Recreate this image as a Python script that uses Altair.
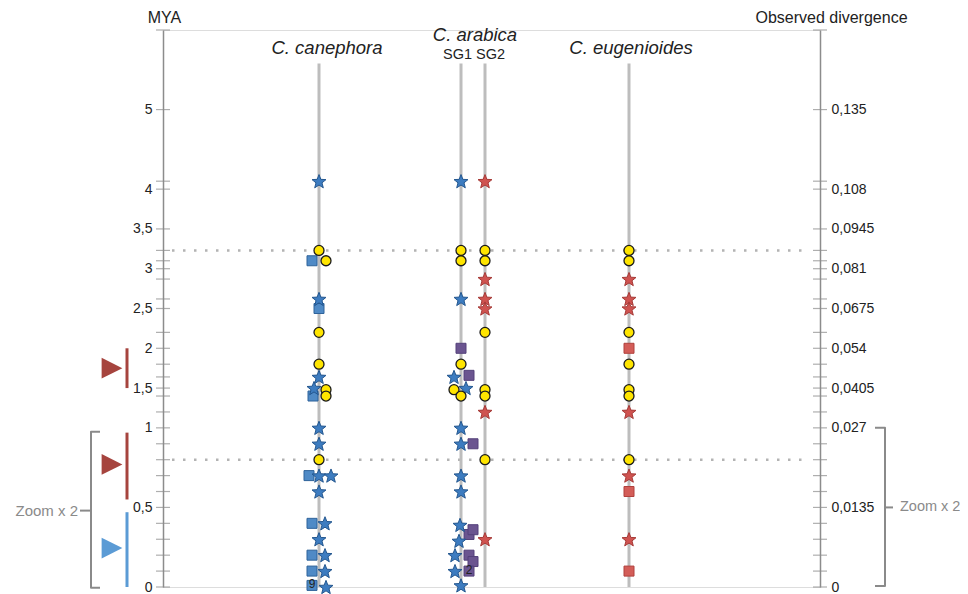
import math
import altair as alt
import pandas as pd

# ---------------------------------------------------------------- data
# axis ticks (MYA) -- minor ticks mark the data levels
tick_mya = [0, 0.1, 0.2, 0.3, 0.4, 0.5, 0.6, 0.7, 0.8, 0.9, 1, 1.2, 1.4, 1.5, 1.64,
            1.8, 2, 2.2, 2.5, 2.62, 2.87, 3, 3.1, 3.23, 3.5, 4, 4.1, 5, 6]
label_mya = [0, 0.5, 1, 1.5, 2, 2.5, 3, 3.5, 4, 5]
label_mya_text = ["0", "0,5", "1", "1,5", "2", "2,5", "3", "3,5", "4", "5"]
label_div_text = ["0", "0,0135", "0,027", "0,0405", "0,054", "0,0675", "0,081",
                  "0,0945", "0,108", "0,135"]

species = ["C. canephora", "C. arabica", "C. eugenioides"]
subgenomes = "SG1 SG2"
columns = ["canephora", "SG1", "SG2", "eugenioides"]
column_top_mya = 5.58
dotted_mya = [3.23, 0.8]

canephora_mya = [3.1, 2.5, 1.4, 0.7, 0.4, 0.2, 0.1, 0.01,
                 4.1, 2.62, 1.64, 1.5, 1.0, 0.9, 0.7, 0.7, 0.6, 0.4, 0.3, 0.2, 0.1, 0.0,
                 3.23, 3.1, 2.2, 1.8, 1.48, 1.4, 0.8]
canephora_kind = ["sq_blue"] * 8 + ["star_blue"] * 14 + ["circle"] * 7
canephora_note = [""] * 7 + ["9"] + [""] * 21

sg1_mya = [2.0, 1.66, 0.9, 0.33, 0.36, 0.2, 0.16, 0.1,
           4.1, 2.62, 1.64, 1.5, 1.0, 0.9, 0.7, 0.6, 0.39, 0.29, 0.2, 0.1, 0.01,
           3.23, 3.1, 1.8, 1.48, 1.4]
sg1_kind = ["sq_purple"] * 8 + ["star_blue"] * 13 + ["circle"] * 5
sg1_note = [""] * 7 + ["2"] + [""] * 18

sg2_mya = [4.1, 2.87, 2.62, 2.5, 1.2, 0.3,
           3.23, 3.1, 2.2, 1.48, 1.4, 0.8]
sg2_kind = ["star_red"] * 6 + ["circle"] * 6

eug_mya = [2.0, 0.6, 0.1,
           2.87, 2.62, 2.5, 1.2, 0.7, 0.3,
           3.23, 3.1, 2.2, 1.8, 1.48, 1.4, 0.8]
eug_kind = ["sq_red"] * 3 + ["star_red"] * 6 + ["circle"] * 7

# duplication bursts (left of the axis)
burst_lo = [1.5, 0.55, 0.0]
burst_hi = [2.0, 0.97, 0.47]
burst_mid = [1.75, 0.77, 0.245]
burst_kind = ["red", "red", "blue"]

zoom_text = "Zoom x 2"
zoom_lo, zoom_hi = 0.0, 1.0
left_title, right_title = "MYA", "Observed divergence"

# ---------------------------------------------------------------- layout / style
W, H = 657, 557
col_x = {"canephora": 156, "SG1": 298, "SG2": 322, "eugenioides": 466}
canephora_dodge = [-7, 0, -6, -10, -7, -7, -7, -7,
                   0, 0, 0, -5, 0, 0, 0, 12, 0, 6, 0, 6, 6, 7,
                   0, 7, 0, 0, 7, 7, 0]
sg1_dodge = [0, 8, 12, 8, 12, 8, 12, 8,
             0, 0, -7, 5, 0, 0, 0, 0, -1, -2, -6, -6, 0,
             0, 0, 0, -7, 0]
sg2_dodge = [0] * len(sg2_mya)
eug_dodge = [0] * len(eug_mya)
bar_x, tri_x = -36, -51
lbr_x, lbr_stub, lbr_tick = -72, -63, -83
rbr_x, rbr_stub, rbr_tick = 722, 712, 730

FONT = "Liberation Sans"
AX = "#8c8c8c"

kinds = ["star_blue", "star_red", "circle", "sq_blue", "sq_purple", "sq_red"]
fills = ["#3d7cc0", "#cf5350", "#ffe500", "#4f8ac6", "#6b5590", "#d35d58"]
strokes = ["#24578f", "#a63a37", "#1a1a1a", "#2f639a", "#54417a", "#b0413d"]

pts = []
for k in range(10):
    a = math.radians(-90 + 36 * k)
    r = 1.0 if k % 2 == 0 else 0.43
    pts.append(f"{r*math.cos(a):.3f},{r*math.sin(a)+0.095:.3f}")
STAR = "M" + "L".join(pts) + "Z"
TRI = "M-1,-1L1,0L-1,1Z"

# ---------------------------------------------------------------- tables
rows = []
for col, ms, ks, ds, ns in [
    ("canephora", canephora_mya, canephora_kind, canephora_dodge, canephora_note),
    ("SG1", sg1_mya, sg1_kind, sg1_dodge, sg1_note),
    ("SG2", sg2_mya, sg2_kind, sg2_dodge, [""] * len(sg2_mya)),
    ("eugenioides", eug_mya, eug_kind, eug_dodge, [""] * len(eug_mya)),
]:
    for m, k, d, n in zip(ms, ks, ds, ns):
        rows.append({"col": col, "mya": m, "kind": k, "x": col_x[col] + d, "note": n})
markers = pd.DataFrame(rows)

cols_df = pd.DataFrame({"col": columns, "x": [col_x[c] for c in columns],
                        "top": column_top_mya, "bottom": 0.0})
ticks_df = pd.DataFrame({"mya": tick_mya})
dots_df = pd.DataFrame({"mya": dotted_mya})
burst_df = pd.DataFrame({"lo": burst_lo, "hi": burst_hi, "mid": burst_mid, "kind": burst_kind,
                         "bx": bar_x, "tx": tri_x})
bracket_df = pd.DataFrame([
    {"part": "L", "o": 0, "x": lbr_stub, "mya": zoom_hi - 0.025},
    {"part": "L", "o": 1, "x": lbr_x, "mya": zoom_hi - 0.025},
    {"part": "L", "o": 2, "x": lbr_x, "mya": zoom_lo - 0.005},
    {"part": "L", "o": 3, "x": lbr_stub, "mya": zoom_lo - 0.005},
    {"part": "Lt", "o": 0, "x": lbr_x, "mya": 0.48},
    {"part": "Lt", "o": 1, "x": lbr_tick, "mya": 0.48},
    {"part": "R", "o": 0, "x": rbr_stub, "mya": zoom_hi},
    {"part": "R", "o": 1, "x": rbr_x, "mya": zoom_hi},
    {"part": "R", "o": 2, "x": rbr_x, "mya": zoom_lo + 0.006},
    {"part": "R", "o": 3, "x": rbr_stub, "mya": zoom_lo + 0.006},
    {"part": "Rt", "o": 0, "x": rbr_x, "mya": 0.5},
    {"part": "Rt", "o": 1, "x": rbr_tick, "mya": 0.5},
])
zoom_df = pd.DataFrame({"x": [lbr_tick - 2, rbr_tick + 7], "mya": [0.48, 0.5],
                        "t": [zoom_text, zoom_text]})

# ---------------------------------------------------------------- scales
yscale = alt.Scale(domain=[0, 1, 6], range=[H, H * 5 / 7, 0], nice=False, zero=False)
xscale = alt.Scale(domain=[0, W], range=[0, W], nice=False, zero=False)


def expr(vals, texts):
    s = "''"
    for v, t in reversed(list(zip(vals, texts))):
        s = f"datum.value == {v} ? '{t}' : ({s})"
    return s


def X(f):
    return alt.X(f, scale=xscale, axis=None)


def Y(f):
    return alt.Y(f, scale=yscale, axis=None)


common_axis = dict(values=label_mya, ticks=False, grid=False, domain=True, domainColor=AX,
                   domainWidth=1.5, labelFontSize=14, labelColor="#222", labelFont=FONT,
                   labelPadding=11, labelOverlap=False, labelFlush=False, labelBound=False,
                   titleAngle=0, titleFontSize=16, titleFontWeight="normal", titleFont=FONT,
                   titleColor="#222", titleAlign="center", titleBaseline="middle", titleY=-13)

left_ticks = alt.Chart(ticks_df).mark_tick(orient="horizontal", size=14, thickness=1.2, color=AX).encode(
    x=alt.value(0),
    y=alt.Y("mya:Q", scale=yscale,
            axis=alt.Axis(orient="left", labelExpr=expr(label_mya, label_mya_text),
                          title=left_title, titleX=1, **common_axis)))
right_ticks = alt.Chart(ticks_df).mark_tick(orient="horizontal", size=14, thickness=1.2, color=AX).encode(
    x=alt.value(W),
    y=alt.Y("mya:Q", scale=yscale,
            axis=alt.Axis(orient="right", labelExpr=expr(label_mya, label_div_text),
                          title=right_title, titleX=11, **common_axis)))

dots = alt.Chart(dots_df).mark_rule(color="#b3b3b3", strokeWidth=2.5, strokeDash=[2.5, 8.5]).encode(
    y=Y("mya:Q"), x=alt.value(9), x2=alt.value(645))

col_lines = alt.Chart(cols_df).mark_rule(color="#bdbdbd", strokeWidth=3).encode(
    x=X("x:Q"), y=Y("top:Q"), y2="bottom:Q")

burst_scale = alt.Scale(domain=["red", "blue"], range=["#a6443e", "#5b9bd5"])
bars = alt.Chart(burst_df).mark_rule(strokeWidth=3).encode(
    x=X("bx:Q"), y=Y("lo:Q"), y2="hi:Q", color=alt.Color("kind:N", scale=burst_scale, legend=None))
tris = alt.Chart(burst_df).mark_point(shape=TRI, size=430, filled=True, opacity=1).encode(
    x=X("tx:Q"), y=Y("mid:Q"), color=alt.Color("kind:N", scale=burst_scale, legend=None))

brackets = alt.Chart(bracket_df).mark_line(color="#8a8a8a", strokeWidth=2, strokeJoin="round").encode(
    x=X("x:Q"), y=Y("mya:Q"), detail="part:N", order="o:Q")
zoom_l = alt.Chart(zoom_df.iloc[[0]]).mark_text(align="right", baseline="middle", fontSize=15,
                                                font=FONT, color="#8a8a8a").encode(
    x=X("x:Q"), y=Y("mya:Q"), text="t:N")
zoom_r = alt.Chart(zoom_df.iloc[[1]]).mark_text(align="left", baseline="middle", fontSize=14.5,
                                                font=FONT, color="#8a8a8a").encode(
    x=X("x:Q"), y=Y("mya:Q"), text="t:N")

fill_enc = alt.Fill("kind:N", scale=alt.Scale(domain=kinds, range=fills), legend=None)
stroke_enc = alt.Stroke("kind:N", scale=alt.Scale(domain=kinds, range=strokes), legend=None)


def marker_layer(prefix, shape, size, sw):
    d = markers[markers["kind"].str.startswith(prefix)]
    return alt.Chart(d).mark_point(shape=shape, size=size, filled=True, opacity=1,
                                   strokeWidth=sw).encode(
        x=X("x:Q"), y=Y("mya:Q"), fill=fill_enc, stroke=stroke_enc)


squares = marker_layer("sq", "square", 100, 1)
stars = marker_layer("star", STAR, 215, 1)
circles = marker_layer("circle", "circle", 100, 1.3)

notes = alt.Chart(markers[markers["note"] != ""]).mark_text(
    fontSize=12, font=FONT, color="#222", baseline="middle", dy=-1).encode(
    x=X("x:Q"), y=Y("mya:Q"), text="note:N")

title_df = pd.DataFrame({"t": [species[0], species[1], species[2], subgenomes],
                         "x": [col_x["canephora"] + 8, (col_x["SG1"] + col_x["SG2"]) / 2 + 2,
                               col_x["eugenioides"] + 2, (col_x["SG1"] + col_x["SG2"]) / 2 + 1]})
sp_titles = alt.Chart(title_df.iloc[[0, 2]]).mark_text(fontSize=18.5, fontStyle="italic", font=FONT,
                                                       color="#222", baseline="middle").encode(
    x=X("x:Q"), y=alt.value(18), text="t:N")
arab = alt.Chart(title_df.iloc[[1]]).mark_text(fontSize=18.5, fontStyle="italic", font=FONT,
                                               color="#222", baseline="middle").encode(
    x=X("x:Q"), y=alt.value(5), text="t:N")
sg_title = alt.Chart(title_df.iloc[[3]]).mark_text(fontSize=14.5, font=FONT, color="#222",
                                                   baseline="middle").encode(
    x=X("x:Q"), y=alt.value(25), text="t:N")

chart = alt.layer(
    left_ticks, right_ticks, dots, col_lines, bars, tris, brackets, zoom_l, zoom_r,
    squares, stars, circles, notes, sp_titles, arab, sg_title
).resolve_axis(y="independent").properties(
    width=W, height=H,
    padding={"left": 155, "top": 22, "right": 140, "bottom": 10},
    autosize=alt.AutoSizeParams(type="none"),
).configure_view(stroke=None).configure(font=FONT)

chart.save("out.html", embed_options={"renderer": "svg", "actions": False})
